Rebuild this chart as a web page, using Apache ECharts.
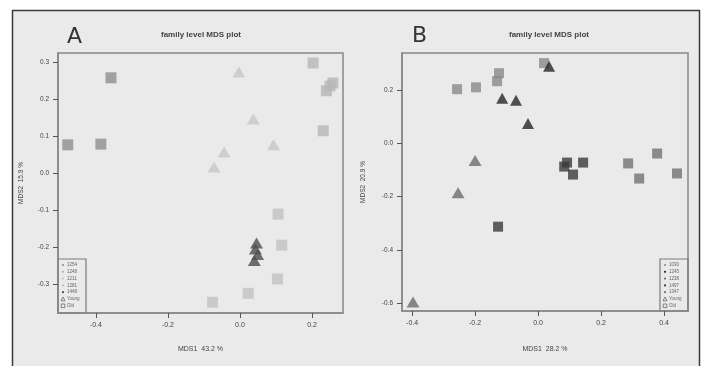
<!DOCTYPE html>
<html><head><meta charset="utf-8">
<script src="https://cdn.jsdelivr.net/npm/echarts@6/dist/echarts.min.js"></script>
<style>html,body{margin:0;padding:0;background:#fff}#c{width:704px;height:366px}</style>
</head><body><div id="c"></div>
<script>
// ---------- Panel A data ----------
const ticksAX = [-0.4, -0.2, 0.0, 0.2];
const ticksAY = [-0.3, -0.2, -0.1, 0.0, 0.1, 0.2, 0.3];
const legendA = ['1254', '1248', '1211', '1281', '1448', 'Young', 'Old'];
const aG1Old = [[-0.478, 0.076], [-0.386, 0.078], [-0.358, 0.257]];
const aG2Old = [[0.203, 0.297], [0.258, 0.243], [0.250, 0.235], [0.240, 0.222], [0.231, 0.114]];
const aG3Young = [[-0.003, 0.273], [0.037, 0.146], [0.093, 0.076], [-0.044, 0.057], [-0.072, 0.016]];
const aG4Old = [[0.106, -0.111], [0.116, -0.195], [0.104, -0.286], [0.023, -0.325], [-0.076, -0.349]];
const aG5Young = [[0.046, -0.189], [0.043, -0.205], [0.049, -0.220], [0.040, -0.236]];
// ---------- Panel B data ----------
const ticksBX = [-0.4, -0.2, 0.0, 0.2, 0.4];
const ticksBY = [-0.6, -0.4, -0.2, 0.0, 0.2];
const legendB = ['1030', '1245', '1238', '1497', '1347', 'Young', 'Old'];
const bG1Old = [[-0.257, 0.204], [-0.197, 0.211], [-0.124, 0.264], [-0.130, 0.234], [0.019, 0.302]];
const bG2Young = [[0.035, 0.290], [-0.114, 0.170], [-0.070, 0.162], [-0.032, 0.075]];
const bG3Young = [[-0.200, -0.064], [-0.254, -0.185], [-0.397, -0.596]];
const bG4Old = [[0.092, -0.072], [0.083, -0.087], [0.143, -0.072], [0.111, -0.117], [-0.127, -0.313]];
const bG5Old = [[0.286, -0.075], [0.378, -0.038], [0.321, -0.132], [0.441, -0.113]];

const colA = ['#8e8e8e', '#b6b6b6', '#c7c7c7', '#c2c2c2', '#4e4e4e'];
const colB = ['#8a8a8a', '#262626', '#6c6c6c', '#3a3a3a', '#727272'];

const chart = echarts.init(document.getElementById('c'), null, {renderer: 'canvas'});

function sq(data, color, xi, size) {
  return {type: 'scatter', xAxisIndex: xi, yAxisIndex: xi, data: data, symbol: 'rect',
    symbolSize: size, itemStyle: {color: color}, silent: true};
}
function tri(data, color, xi, size) {
  return {type: 'scatter', xAxisIndex: xi, yAxisIndex: xi, data: data, symbol: 'triangle',
    symbolSize: size, itemStyle: {color: color}, silent: true};
}
function xAx(grid, min, max, ticks, name, gap) {
  return {gridIndex: grid, type: 'value', position: 'bottom', min: min, max: max, splitLine: {show: false},
    axisLine: {show: true, onZero: false, lineStyle: {color: '#888', width: 1.5}},
    axisTick: {show: true, length: 5, customValues: ticks, lineStyle: {color: '#555', width: 1}},
    axisLabel: {customValues: ticks, formatter: v => v.toFixed(1), fontSize: 7, color: '#444', margin: 9, fontFamily: 'Liberation Sans'},
    name: name, nameLocation: 'middle', nameGap: gap,
    nameTextStyle: {fontSize: 7, color: '#444', fontFamily: 'Liberation Sans'}};
}
function yAx(grid, min, max, ticks, name, gap) {
  return {gridIndex: grid, type: 'value', position: 'left', min: min, max: max, splitLine: {show: false},
    axisLine: {show: true, onZero: false, lineStyle: {color: '#888', width: 1.5}},
    axisTick: {show: true, length: 5, customValues: ticks, lineStyle: {color: '#555', width: 1}},
    axisLabel: {customValues: ticks, formatter: v => v.toFixed(1), fontSize: 6.5, color: '#444', margin: 9, fontFamily: 'Liberation Sans'},
    name: name, nameLocation: 'middle', nameGap: gap, nameRotate: 90,
    nameTextStyle: {fontSize: 6.5, color: '#444', fontFamily: 'Liberation Sans'}};
}
function legendGraphic(labels, colors, x, y, w, h) {
  const els = [{type: 'rect', shape: {x: x, y: y, width: w, height: h},
    style: {fill: 'none', stroke: '#7a7a7a', lineWidth: 1.2}}];
  const step = 6.8;
  labels.forEach((lab, i) => {
    const cy = y + 6 + i * step;
    if (i < colors.length) {
      els.push({type: 'circle', shape: {cx: x + 5, cy: cy, r: 1.1}, style: {fill: colors[i]}});
    } else if (lab === 'Young') {
      els.push({type: 'polygon', shape: {points: [[x + 3, cy + 1.8], [x + 7, cy + 1.8], [x + 5, cy - 2]]},
        style: {fill: 'none', stroke: '#666', lineWidth: 0.8}});
    } else {
      els.push({type: 'rect', shape: {x: x + 3.2, y: cy - 1.8, width: 3.6, height: 3.6},
        style: {fill: 'none', stroke: '#666', lineWidth: 0.8}});
    }
    els.push({type: 'text', x: x + 9, y: cy, style: {text: lab, fontSize: 4.5, fill: '#666',
      verticalAlign: 'middle', fontFamily: 'Liberation Sans'}});
  });
  return els;
}

const graphics = [
  {type: 'rect', z: -10, shape: {x: 12.5, y: 10.5, width: 687, height: 370},
    style: {fill: '#eaeaea', stroke: '#3a3a3a', lineWidth: 1.5}},
  {type: 'text', x: 67, y: 26, style: {text: 'A', fontSize: 22, fill: '#333', fontFamily: 'DejaVu Sans'}},
  {type: 'text', x: 412, y: 25, style: {text: 'B', fontSize: 22, fill: '#333', fontFamily: 'DejaVu Sans'}},
  {type: 'text', x: 201, y: 35, style: {text: 'family level MDS plot', fontSize: 8, fontWeight: 'bold',
    fill: '#444', align: 'center', verticalAlign: 'middle', fontFamily: 'Liberation Sans'}},
  {type: 'text', x: 549, y: 35, style: {text: 'family level MDS plot', fontSize: 8, fontWeight: 'bold',
    fill: '#444', align: 'center', verticalAlign: 'middle', fontFamily: 'Liberation Sans'}}
].concat(legendGraphic(legendA, colA, 58, 259, 28, 54))
 .concat(legendGraphic(legendB, colB, 660, 259, 28, 52));

const option = {
  backgroundColor: '#ffffff',
  animation: false,
  graphic: graphics,
  grid: [
    {left: 58, top: 53, width: 285, height: 260, show: true, borderColor: '#888', borderWidth: 1.5, backgroundColor: 'transparent'},
    {left: 402, top: 53, width: 286, height: 258, show: true, borderColor: '#888', borderWidth: 1.5, backgroundColor: 'transparent'}
  ],
  xAxis: [xAx(0, -0.505, 0.286, ticksAX, 'MDS1  43.2 %', 33), xAx(1, -0.432, 0.476, ticksBX, 'MDS1  28.2 %', 35)],
  yAxis: [yAx(0, -0.378, 0.324, ticksAY, 'MDS2  15.9 %', 33), yAx(1, -0.63, 0.34, ticksBY, 'MDS2  20.9 %', 35)],
  series: [
    sq(aG1Old, colA[0], 0, 11), sq(aG2Old, colA[1], 0, 11), tri(aG3Young, colA[2], 0, [13, 11]),
    sq(aG4Old, colA[3], 0, 11), tri(aG5Young, colA[4], 0, [13, 11]),
    sq(bG1Old, colB[0], 1, 10), tri(bG2Young, colB[1], 1, [12, 11]), tri(bG3Young, colB[2], 1, [13, 11]),
    sq(bG4Old, colB[3], 1, 10), sq(bG5Old, colB[4], 1, 10)
  ]
};
chart.setOption(option);
</script></body></html>
